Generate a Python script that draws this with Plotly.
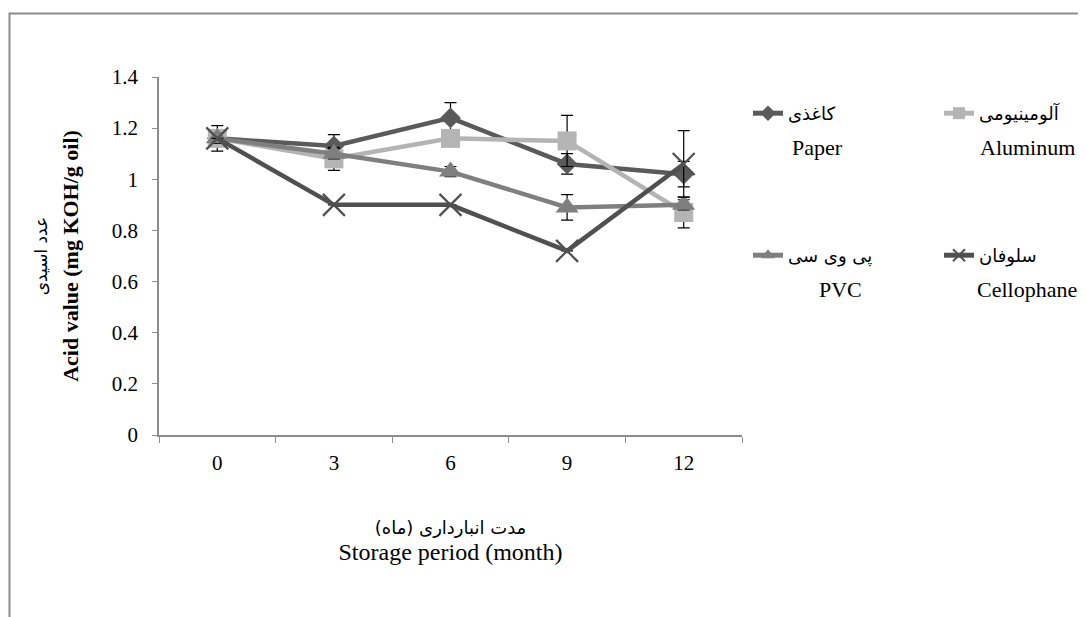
import plotly.graph_objects as go

months = ["0", "3", "6", "9", "12"]

paper_vals = [1.16, 1.13, 1.24, 1.06, 1.02]
aluminum_vals = [1.16, 1.08, 1.16, 1.15, 0.87]
pvc_vals = [1.16, 1.10, 1.03, 0.89, 0.90]
cellophane_vals = [1.16, 0.90, 0.90, 0.72, 1.06]

paper_err = [0.05, 0.045, 0.06, 0.04, 0.05]
aluminum_err = [0.02, 0.045, 0.02, 0.10, 0.06]
pvc_err = [0.02, 0.02, 0.02, 0.05, 0.02]
cellophane_err = [None, None, None, None, 0.13]

names_fa = ["کاغذی", "آلومینیومی", "پی وی سی", "سلوفان"]
names_en = ["Paper", "Aluminum", "PVC", "Cellophane"]

SERIF = "Liberation Serif, Times New Roman, DejaVu Serif, serif"
FA = "DejaVu Sans, Liberation Serif, sans-serif"

specs = [
    (paper_vals, paper_err, "#5a5a5a", "diamond", 16, 0, "legend"),
    (aluminum_vals, aluminum_err, "#b4b4b4", "square", 19, 0, "legend"),
    (pvc_vals, pvc_err, "#7f7f7f", "triangle-up", 20, 0, "legend2"),
    (cellophane_vals, cellophane_err, "#505050", "x-thin", 22, 2.2, "legend2"),
]

fig = go.Figure()
for i, (vals, err, col, sym, sz, mlw, lg) in enumerate(specs):
    fig.add_trace(go.Scatter(
        x=months, y=vals, name=names_fa[i], mode="lines+markers",
        line=dict(color=col, width=4.5),
        marker=dict(symbol=sym, size=sz, color=col, line=dict(color=col, width=mlw)),
        error_y=dict(type="data", array=err, visible=True, color="black",
                     thickness=1.2, width=6),
        legend=lg,
    ))

OFF = 8  # page body margin
W, H = 1086 - OFF, 617 - OFF
L, R, T, B = 151, 344, 69, 182
pw, ph = W - L - R, H - T - B

def px(x):  # screen x -> paper
    return (x - OFF - L) / pw

def py(y):  # screen y -> paper
    return (H - B - (y - OFF)) / ph

ann = []
en_pos = [(790, 147, "left"), (978, 147, "left"), (864, 289, "right"), (975, 289, "left")]
for name, (x, y, anc) in zip(names_en, en_pos):
    ann.append(dict(text=name, x=px(x), y=py(y), xref="paper", yref="paper",
                    xanchor=anc, yanchor="middle", showarrow=False,
                    font=dict(family=SERIF, size=22, color="black")))

leg_common = dict(orientation="h", xanchor="left", yanchor="top", entrywidth=146,
                  itemsizing="constant",
                  font=dict(family=FA, size=18, color="black"),
                  bgcolor="rgba(0,0,0,0)", itemclick=False)

fig.update_layout(
    width=W, height=H,
    margin=dict(l=L, r=R, t=T, b=B, autoexpand=False),
    paper_bgcolor="white", plot_bgcolor="white",
    font=dict(family=SERIF, size=21, color="black"),
    showlegend=True,
    legend=dict(x=px(748), y=py(95), **leg_common),
    legend2=dict(x=px(748), y=py(237), **leg_common),
    xaxis=dict(type="category", range=[-0.5, 4.5], tickson="boundaries",
               ticks="outside", ticklen=6, tickcolor="#8c8c8c",
               showline=True, linecolor="#8c8c8c", linewidth=1.5,
               showgrid=False, zeroline=False, ticklabelstandoff=8,
               tickfont=dict(family=SERIF, size=21),
               title=dict(text="<span style='font-family:DejaVu Sans;font-size:18px'>مدت انبارداری (ماه)</span><br><span style='font-size:24px'>Storage period (month)</span>",
                          standoff=46, font=dict(family=SERIF, size=20))),
    yaxis=dict(range=[0, 1.4], dtick=0.2, ticks="outside", ticklen=5, tickcolor="#8c8c8c",
               showline=True, linecolor="#8c8c8c", linewidth=1.5,
               showgrid=False, zeroline=False, ticklabelstandoff=10,
               tickfont=dict(family=SERIF, size=21),
               title=dict(text="<span style='font-family:DejaVu Sans;font-size:17px'>عدد اسیدی</span><br><b style='font-size:22px'>Acid value (mg KOH/g oil)</b>",
                          standoff=26, font=dict(family=SERIF, size=24))),
    annotations=ann,
    shapes=[dict(type="rect", xref="paper", yref="paper",
                 x0=px(9.5), x1=px(1110), y0=py(650), y1=py(13.5),
                 line=dict(color="#8c8c8c", width=2), fillcolor="rgba(0,0,0,0)", layer="below")],
)

fig.write_html("out.html")
